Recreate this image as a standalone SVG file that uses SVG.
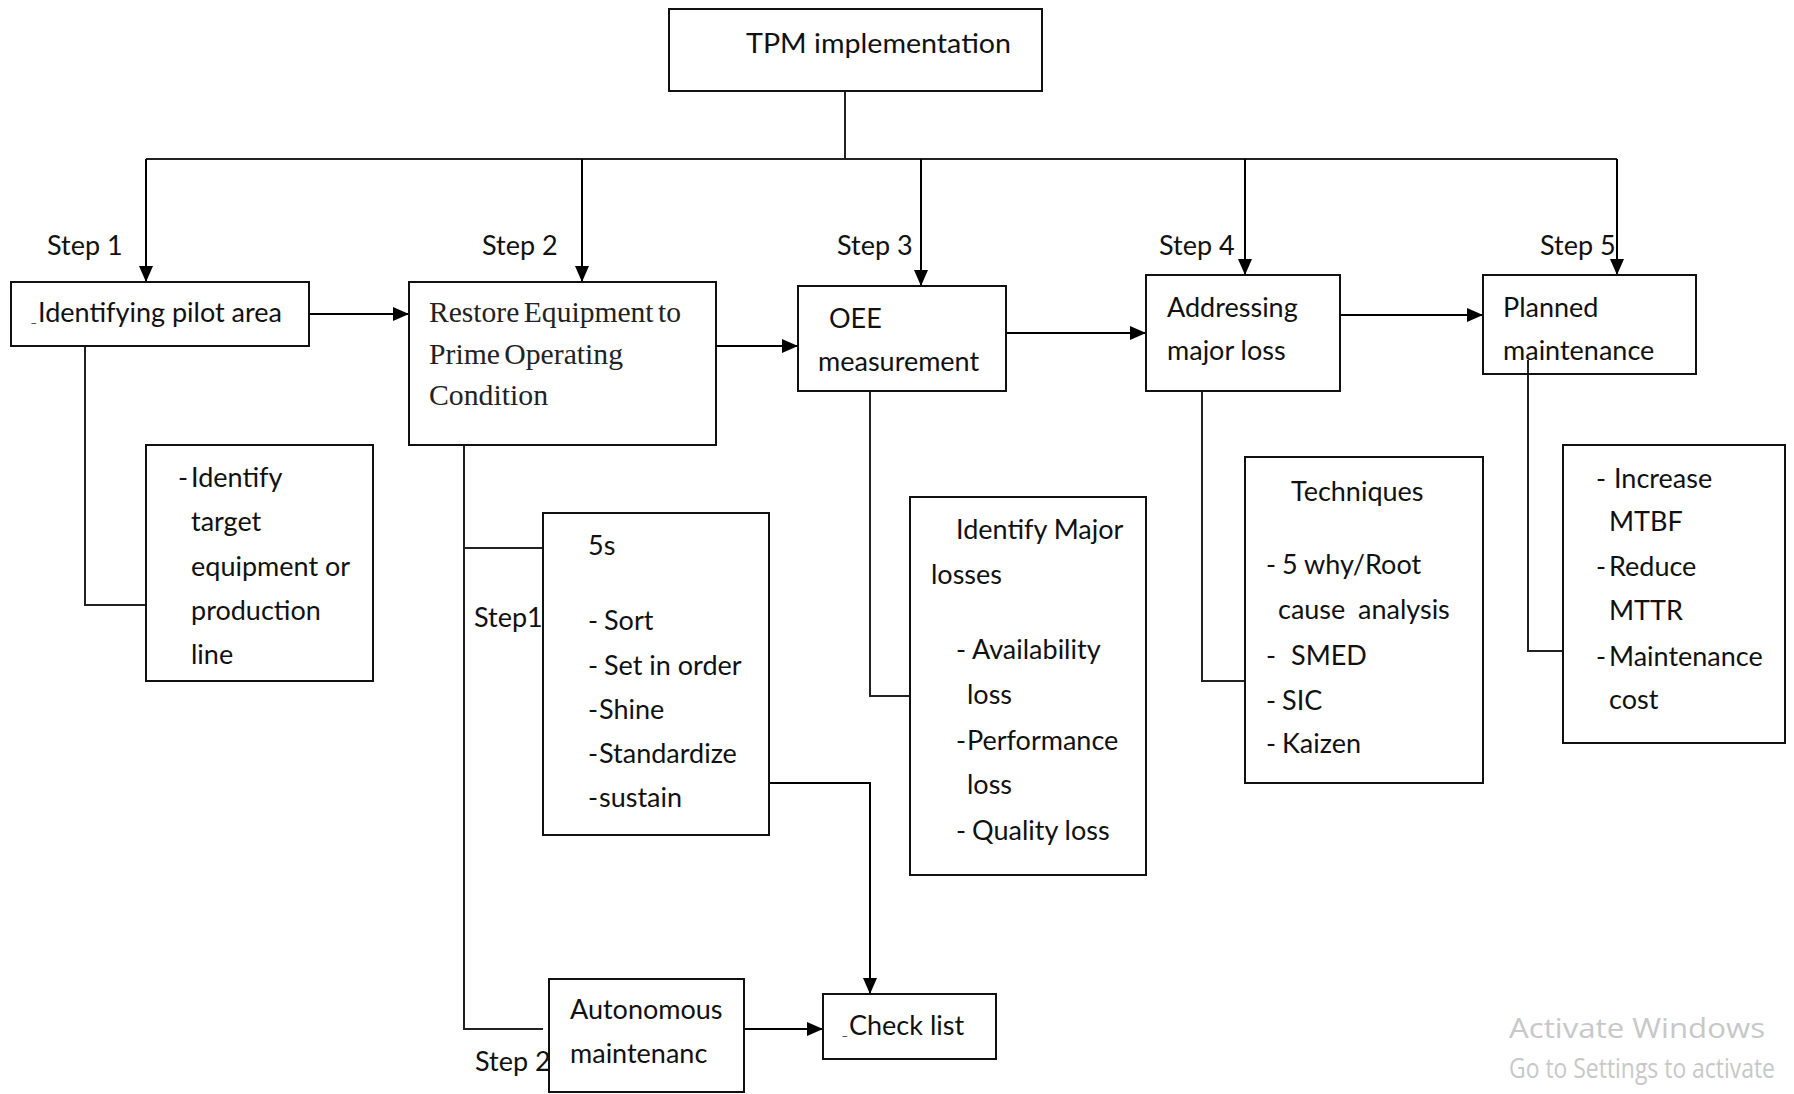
<svg xmlns="http://www.w3.org/2000/svg" width="1794" height="1094" viewBox="0 0 1794 1094">
<defs>
<marker id="ah" markerUnits="userSpaceOnUse" markerWidth="16" markerHeight="14" refX="16" refY="7" orient="auto">
<path d="M0,0 L16,7 L0,14 z" fill="#000"/>
</marker>
<style>
.box{fill:none;stroke:#111;stroke-width:2}
.t{font-family:Lato,"Open Sans","Liberation Sans",sans-serif;font-size:27px;fill:#111}
.s{font-family:"Liberation Serif","Times New Roman",serif;font-size:30px;fill:#222;word-spacing:-3px}
.c{fill:none;stroke:#222;stroke-width:2}
.a{fill:none;stroke:#000;stroke-width:2;marker-end:url(#ah)}
.w{font-family:"Open Sans","Noto Sans",sans-serif;font-size:28px;fill:#c8c8c8}
</style>
</defs>
<rect width="1794" height="1094" fill="#fff"/>
<g id="connectors">
<path class="c" d="M845,91 V159"/>
<path class="c" d="M146,159 H1617"/>
<path class="a" d="M146,159 V282"/>
<path class="a" d="M582,159 V282"/>
<path class="a" d="M921,159 V286"/>
<path class="a" d="M1245,159 V275"/>
<path class="a" d="M1617,159 V275"/>
<path class="a" d="M309,314 H409"/>
<path class="a" d="M716,346 H798"/>
<path class="a" d="M1006,333 H1146"/>
<path class="a" d="M1340,315 H1483"/>
<path class="c" d="M85,346 V605 H146"/>
<path class="c" d="M464,445 V1029 H543"/>
<path class="c" d="M464,548 H543"/>
<path class="c" d="M870,391 V696 H910"/>
<path class="c" d="M1202,391 V681 H1245"/>
<path class="c" d="M1528,360 V651 H1563"/>
<path class="a" d="M769,783 H870 V994"/>
<path class="a" d="M744,1029 H823"/>
</g>
<g id="labels">
<text class="t" x="47" y="255">Step 1</text>
<text class="t" x="482" y="255">Step 2</text>
<text class="t" x="837" y="255">Step 3</text>
<text class="t" x="1159" y="255">Step 4</text>
<text class="t" x="1540" y="255">Step 5</text>
<text class="t" x="474" y="627">Step1</text>
<text class="t" x="475" y="1071">Step 2</text>
</g>
<g id="tpm">
<rect class="box" x="669" y="9" width="373" height="82"/>
<text class="t" x="746" y="53" font-size="28" textLength="265" lengthAdjust="spacingAndGlyphs">TPM implementation</text>
</g>
<g id="pilot">
<rect class="box" x="11" y="282" width="298" height="64"/>
<text class="t" y="322"><tspan x="31" font-size="12">_</tspan><tspan x="38">Identifying pilot area</tspan></text>
</g>
<g id="restore">
<rect class="box" x="409" y="282" width="307" height="163"/>
<text class="s" x="429" y="322" textLength="252" lengthAdjust="spacingAndGlyphs">Restore Equipment to</text>
<text class="s" x="429" y="364" textLength="194" lengthAdjust="spacingAndGlyphs">Prime Operating</text>
<text class="s" x="429" y="405" textLength="119" lengthAdjust="spacingAndGlyphs">Condition</text>
</g>
<g id="oee">
<rect class="box" x="798" y="286" width="208" height="105"/>
<text class="t" x="829" y="328">OEE</text>
<text class="t" x="818" y="371">measurement</text>
</g>
<g id="addressing">
<rect class="box" x="1146" y="275" width="194" height="116"/>
<text class="t" x="1167" y="317">Addressing</text>
<text class="t" x="1167" y="360">major loss</text>
</g>
<g id="planned">
<rect class="box" x="1483" y="275" width="213" height="99"/>
<text class="t" x="1503" y="317">Planned</text>
<text class="t" x="1503" y="360">maintenance</text>
</g>
<g id="identify-target">
<rect class="box" x="146" y="445" width="227" height="236"/>
<text class="t" y="487"><tspan x="178">-</tspan><tspan x="191">Identify</tspan></text>
<text class="t" x="191" y="531">target</text>
<text class="t" x="191" y="576">equipment or</text>
<text class="t" x="191" y="620">production</text>
<text class="t" x="191" y="664">line</text>
</g>
<g id="fives">
<rect class="box" x="543" y="513" width="226" height="322"/>
<text class="t" x="588" y="555">5s</text>
<text class="t" y="630"><tspan x="588">-</tspan><tspan x="604">Sort</tspan></text>
<text class="t" y="675"><tspan x="588">-</tspan><tspan x="604">Set in order</tspan></text>
<text class="t" y="719"><tspan x="588">-</tspan><tspan x="599">Shine</tspan></text>
<text class="t" y="763"><tspan x="588">-</tspan><tspan x="599">Standardize</tspan></text>
<text class="t" y="807"><tspan x="588">-</tspan><tspan x="599">sustain</tspan></text>
</g>
<g id="major-losses">
<rect class="box" x="910" y="497" width="236" height="378"/>
<text class="t" x="956" y="539">Identify Major</text>
<text class="t" x="931" y="584">losses</text>
<text class="t" y="659"><tspan x="956">-</tspan><tspan x="972">Availability</tspan></text>
<text class="t" x="967" y="704">loss</text>
<text class="t" y="750"><tspan x="956">-</tspan><tspan x="967">Performance</tspan></text>
<text class="t" x="967" y="794">loss</text>
<text class="t" y="840"><tspan x="956">-</tspan><tspan x="972">Quality loss</tspan></text>
</g>
<g id="techniques">
<rect class="box" x="1245" y="457" width="238" height="326"/>
<text class="t" x="1291" y="501">Techniques</text>
<text class="t" y="574"><tspan x="1266">-</tspan><tspan x="1282">5 why/Root</tspan></text>
<text class="t" y="619"><tspan x="1278">cause</tspan><tspan x="1358">analysis</tspan></text>
<text class="t" y="665"><tspan x="1266">-</tspan><tspan x="1291">SMED</tspan></text>
<text class="t" y="710"><tspan x="1266">-</tspan><tspan x="1282">SIC</tspan></text>
<text class="t" y="753"><tspan x="1266">-</tspan><tspan x="1282">Kaizen</tspan></text>
</g>
<g id="pm-goals">
<rect class="box" x="1563" y="445" width="222" height="298"/>
<text class="t" y="488"><tspan x="1596">-</tspan><tspan x="1614">Increase</tspan></text>
<text class="t" x="1609" y="531">MTBF</text>
<text class="t" y="576"><tspan x="1596">-</tspan><tspan x="1609">Reduce</tspan></text>
<text class="t" x="1609" y="620">MTTR</text>
<text class="t" y="666"><tspan x="1596">-</tspan><tspan x="1609">Maintenance</tspan></text>
<text class="t" x="1609" y="709">cost</text>
</g>
<g id="autonomous">
<rect class="box" x="549" y="979" width="195" height="113"/>
<text class="t" x="570" y="1019">Autonomous</text>
<text class="t" x="570" y="1063">maintenanc</text>
</g>
<g id="checklist">
<rect class="box" x="823" y="994" width="173" height="65"/>
<text class="t" y="1035"><tspan x="842" font-size="12">_</tspan><tspan x="849">Check list</tspan></text>
</g>
<g id="watermark">
<text class="w" x="1509" y="1038" textLength="256" lengthAdjust="spacingAndGlyphs">Activate Windows</text>
<text class="w" x="1509" y="1078" font-size="20" textLength="266" lengthAdjust="spacingAndGlyphs">Go to Settings to activate</text>
</g>
</svg>
